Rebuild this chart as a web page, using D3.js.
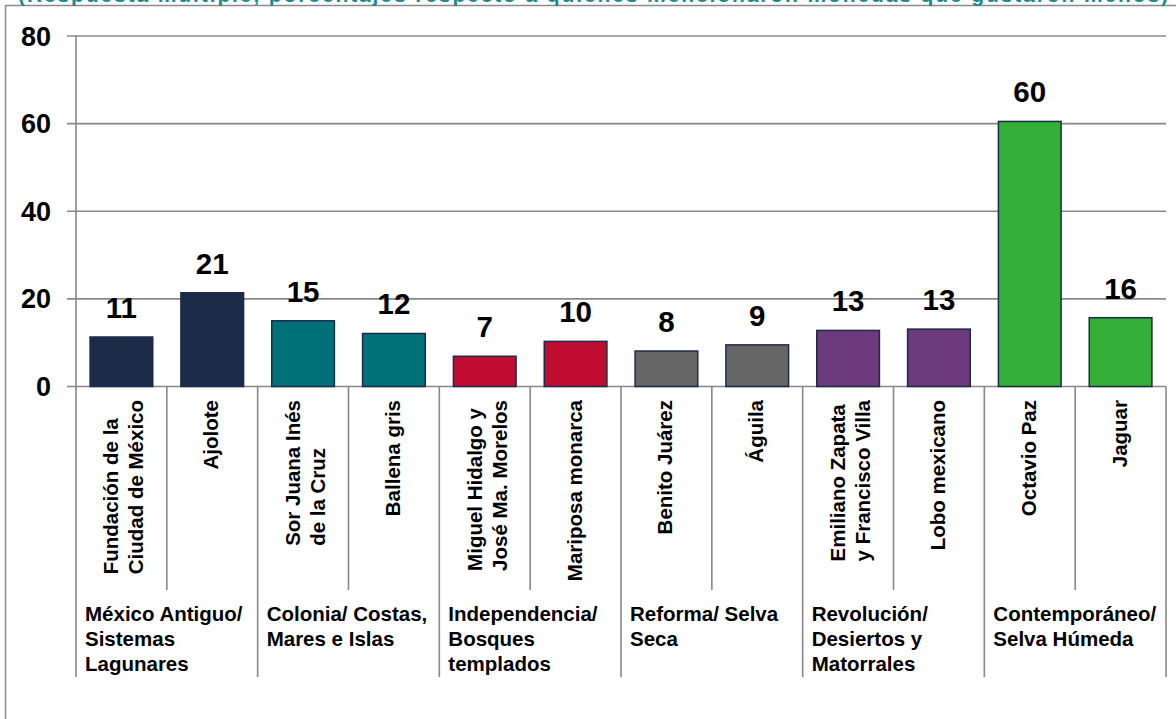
<!DOCTYPE html>
<html><head><meta charset="utf-8">
<script src="https://cdn.jsdelivr.net/npm/d3@7"></script>
<style>
html,body{margin:0;padding:0;background:#fff;}
svg{display:block;font-family:"Liberation Sans",Arial,sans-serif;}
</style></head>
<body><svg id="c" width="1176" height="719"></svg>
<script>
const titleText = "(Respuesta múltiple, porcentajes respecto a quienes mencionaron monedas que gustaron menos)";
const categories = [
  ["Fundación de la","Ciudad de México"],
  ["Ajolote"],
  ["Sor Juana Inés","de la Cruz"],
  ["Ballena gris"],
  ["Miguel Hidalgo y","José Ma. Morelos"],
  ["Mariposa monarca"],
  ["Benito Juárez"],
  ["Águila"],
  ["Emiliano Zapata","y Francisco Villa"],
  ["Lobo mexicano"],
  ["Octavio Paz"],
  ["Jaguar"]
];
const values = [11.3, 21.4, 15.0, 12.1, 6.9, 10.3, 8.1, 9.5, 12.8, 13.1, 60.5, 15.7];
const labels = ["11","21","15","12","7","10","8","9","13","13","60","16"];
const groups = [
  ["México Antiguo/","Sistemas","Lagunares"],
  ["Colonia/ Costas,","Mares e Islas"],
  ["Independencia/","Bosques","templados"],
  ["Reforma/ Selva","Seca"],
  ["Revolución/","Desiertos y","Matorrales"],
  ["Contemporáneo/","Selva Húmeda"]
];
const groupColors = ["#1b2b48","#007179","#c00c31","#666666","#6c3a7d","#31af36"];
const yTicks = [0,20,40,60,80];

(function(){
const svg = d3.select("#c");
const pL = 76, pR = 1166, pT = 36, pB = 386.5;
const grid = "#888888";

svg.append("rect").attr("x",5.5).attr("y",5.5).attr("width",1300).attr("height",900)
  .attr("fill","none").attr("stroke","#8c8c8c").attr("stroke-width",1.5);
svg.append("text").attr("x",18).attr("y",2).attr("fill","#1a8a8f")
  .attr("font-weight","bold").attr("font-size",21)
  .attr("textLength",1150).attr("lengthAdjust","spacing").text(titleText);

const x = d3.scaleBand().domain(d3.range(categories.length)).range([pL,pR]).paddingInner(0.31).paddingOuter(0.155);
const y = d3.scaleLinear().domain([0,80]).range([pB,pT]);
const bw = (pR-pL)/categories.length;

svg.append("g").selectAll("line").data(yTicks).join("line")
  .attr("x1",67).attr("x2",pR).attr("y1",d=>y(d)).attr("y2",d=>y(d))
  .attr("stroke",grid).attr("stroke-width",1.6);
svg.append("g").selectAll("text").data(yTicks).join("text")
  .attr("x",51).attr("y",d=>y(d)+9.5).attr("text-anchor","end")
  .attr("font-weight","bold").attr("font-size",27).attr("fill","#000").text(d=>d);

const seps = d3.range(categories.length+1);
svg.append("g").selectAll("line").data(seps).join("line")
  .attr("x1",i=>pL+i*bw).attr("x2",i=>pL+i*bw)
  .attr("y1",i=>i===0?pT:pB).attr("y2",i=>i%2===0?677:590)
  .attr("stroke",grid).attr("stroke-width",1.6);

svg.append("g").selectAll("rect").data(values).join("rect")
  .attr("x",(d,i)=>x(i)).attr("width",x.bandwidth())
  .attr("y",d=>y(d)).attr("height",d=>pB-y(d))
  .attr("fill",(d,i)=>groupColors[Math.floor(i/2)])
  .attr("stroke","#1d2b4a").attr("stroke-width",1.5);

svg.append("g").selectAll("text").data(values).join("text")
  .attr("x",(d,i)=>x(i)+x.bandwidth()/2).attr("y",d=>y(d)-19)
  .attr("text-anchor","middle").attr("font-weight","bold").attr("font-size",29.5)
  .attr("fill","#000").text((d,i)=>labels[i]);

categories.forEach((lines,i)=>{
  const cx = pL + (i+0.5)*bw;
  const g = svg.append("g");
  const ts = lines.map((l)=>g.append("text").attr("font-weight","bold").attr("font-size",20.5)
     .attr("fill","#000").attr("text-anchor","start").text(l));
  const maxW = d3.max(ts, t=>t.node().getComputedTextLength());
  const off = lines.length===1 ? 6 : 9.5;
  ts.forEach((t,j)=>{
    const bx = cx + off + (j-(lines.length-1)/2)*25;
    t.attr("transform",`translate(${bx},${400+maxW}) rotate(-90)`);
  });
});

groups.forEach((lines,k)=>{
  const gx = pL + k*2*bw + 9;
  const t = svg.append("text").attr("font-weight","bold").attr("font-size",20.5).attr("fill","#000");
  lines.forEach((l,j)=>t.append("tspan").attr("x",gx).attr("y",621+j*25).text(l));
});
})();
</script></body></html>
